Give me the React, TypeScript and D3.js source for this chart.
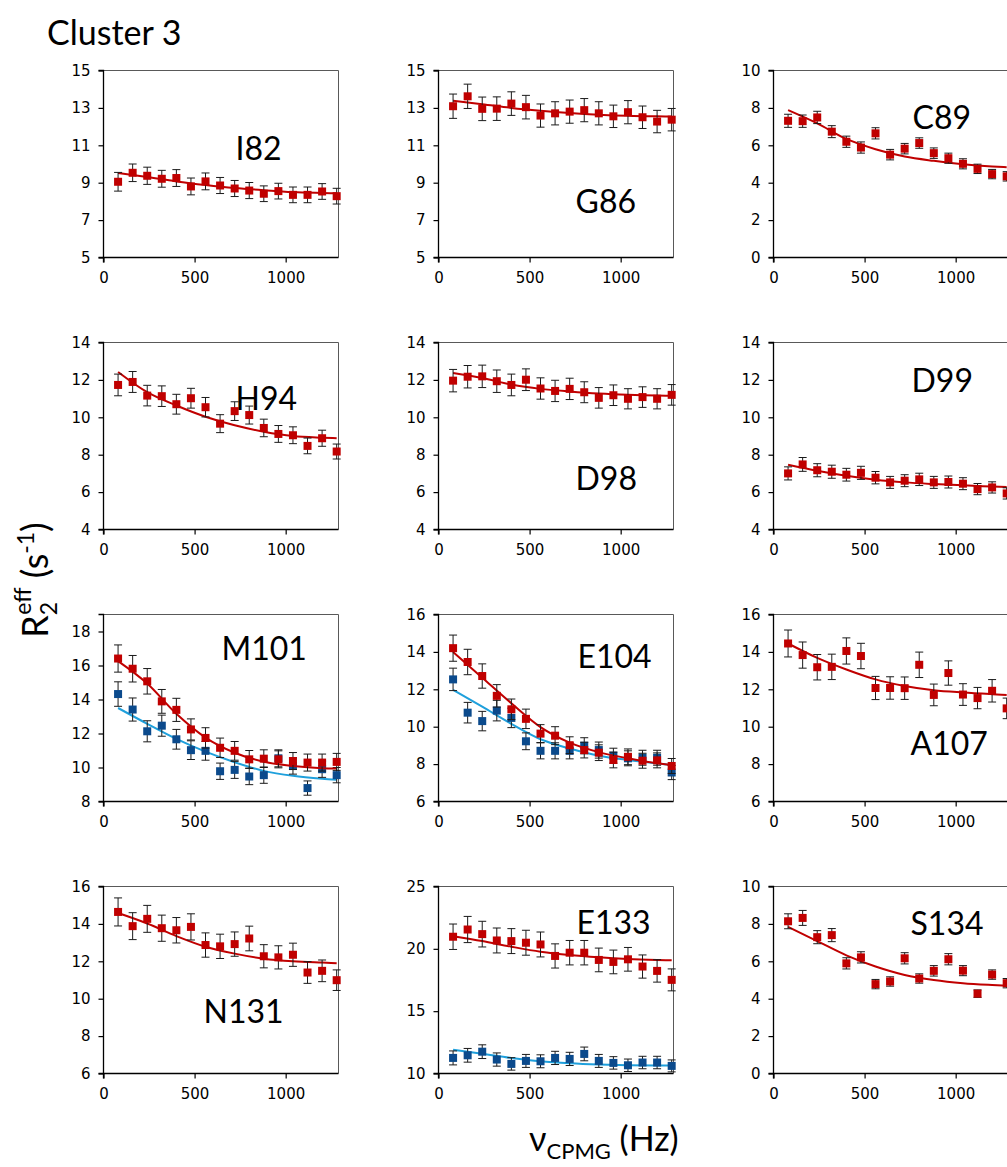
import React, { useEffect, useRef } from 'react';
import * as d3 from 'd3';

// CPMG frequencies (Hz) and the points where the fitted curves were read
const nuCPMG = [80, 160, 240, 320, 400, 480, 560, 640, 720, 800, 880, 960, 1040, 1120, 1200, 1280];
const fitNu = [80, 240, 400, 560, 720, 880, 1040, 1200, 1280];
const xTicks = [0, 500, 1000];

const residues = ['I82', 'G86', 'C89', 'H94', 'D98', 'D99', 'M101', 'E104', 'A107', 'N131', 'E133', 'S134'];
const yRanges = [[5, 15], [5, 15], [0, 10], [4, 14], [4, 14], [4, 14], [8, 19], [6, 16], [6, 16], [6, 16], [10, 25], [0, 10]];
const yTickSteps = [2, 2, 2, 2, 2, 2, 2, 2, 2, 2, 5, 2];

// R2eff values (s-1), red series
const i82 = [9.05, 9.53, 9.37, 9.21, 9.25, 8.8, 9.07, 8.85, 8.69, 8.58, 8.41, 8.55, 8.35, 8.35, 8.53, 8.28];
const g86 = [13.09, 13.62, 12.95, 12.96, 13.23, 13.04, 12.59, 12.71, 12.8, 12.88, 12.71, 12.55, 12.77, 12.5, 12.27, 12.37];
const c89 = [7.31, 7.29, 7.49, 6.73, 6.19, 5.88, 6.64, 5.5, 5.82, 6.12, 5.58, 5.31, 5.01, 4.74, 4.46, 4.34];
const h94 = [11.73, 11.89, 11.16, 11.13, 10.7, 11.02, 10.54, 9.66, 10.33, 10.12, 9.43, 9.11, 9.04, 8.47, 8.88, 8.17];
const d98 = [11.96, 12.17, 12.19, 11.93, 11.73, 12.01, 11.54, 11.41, 11.52, 11.34, 11.04, 11.18, 10.99, 11.08, 10.99, 11.2];
const d99 = [7.0, 7.48, 7.17, 7.09, 6.93, 7.03, 6.77, 6.52, 6.61, 6.68, 6.52, 6.54, 6.45, 6.16, 6.25, 5.93];
const m101 = [16.41, 15.81, 15.07, 13.89, 13.39, 12.24, 11.74, 11.16, 10.98, 10.48, 10.52, 10.48, 10.38, 10.29, 10.29, 10.33];
const e104 = [14.2, 13.46, 12.71, 11.65, 10.93, 10.42, 9.63, 9.52, 9.01, 8.75, 8.61, 8.22, 8.39, 8.18, 8.2, 7.9];
const a107 = [14.45, 13.83, 13.18, 13.2, 14.05, 13.78, 12.07, 12.07, 12.06, 13.31, 11.7, 12.87, 11.72, 11.53, 11.92, 10.98];
const n131 = [14.64, 13.88, 14.27, 13.77, 13.66, 13.84, 12.87, 12.8, 12.92, 13.22, 12.27, 12.21, 12.35, 11.4, 11.49, 10.99];
const e133 = [20.97, 21.55, 21.18, 20.67, 20.62, 20.49, 20.35, 19.43, 19.69, 19.69, 19.11, 18.95, 19.16, 18.58, 18.23, 17.51];
const s134 = [8.14, 8.32, 7.29, 7.4, 5.89, 6.21, 4.78, 4.92, 6.16, 5.08, 5.49, 6.11, 5.5, 4.27, 5.29, 4.83];

// blue series (only three residues)
const m101b = [14.32, 13.41, 12.13, 12.46, 11.66, 11.02, 10.98, 9.78, 9.86, 9.47, 9.55, 10.54, 10.09, 8.79, 9.9, 9.55];
const e104b = [12.53, 10.75, 10.3, 10.86, 10.47, 9.22, 8.71, 8.71, 8.71, 8.98, 8.75, 8.45, 8.31, 8.34, 8.34, 7.55];
const e133b = [11.25, 11.46, 11.75, 11.12, 10.77, 11.01, 10.98, 11.25, 11.17, 11.57, 11.01, 10.85, 10.66, 10.88, 10.88, 10.61];

// error bar half-widths
const i82Err = [0.5, 0.47, 0.46, 0.45, 0.45, 0.45, 0.45, 0.43, 0.43, 0.43, 0.42, 0.42, 0.42, 0.42, 0.42, 0.42];
const g86Err = [0.65, 0.65, 0.63, 0.63, 0.63, 0.63, 0.62, 0.62, 0.62, 0.62, 0.62, 0.6, 0.62, 0.6, 0.6, 0.6];
const c89Err = [0.35, 0.33, 0.33, 0.32, 0.3, 0.3, 0.3, 0.28, 0.28, 0.28, 0.28, 0.27, 0.27, 0.25, 0.25, 0.25];
const h94Err = [0.58, 0.56, 0.55, 0.55, 0.53, 0.53, 0.52, 0.48, 0.5, 0.48, 0.47, 0.45, 0.45, 0.42, 0.43, 0.4];
const d98Err = [0.6, 0.6, 0.6, 0.6, 0.58, 0.58, 0.57, 0.57, 0.57, 0.56, 0.55, 0.55, 0.54, 0.55, 0.54, 0.55];
const d99Err = [0.35, 0.37, 0.35, 0.35, 0.34, 0.35, 0.33, 0.32, 0.32, 0.33, 0.32, 0.32, 0.32, 0.3, 0.3, 0.3];
const m101Err = [0.8, 0.78, 0.75, 0.7, 0.68, 0.62, 0.6, 0.57, 0.55, 0.52, 0.52, 0.5, 0.5, 0.5, 0.5, 0.5];
const e104Err = [0.7, 0.68, 0.65, 0.6, 0.55, 0.52, 0.48, 0.48, 0.45, 0.42, 0.42, 0.42, 0.42, 0.4, 0.4, 0.4];
const a107Err = [0.72, 0.7, 0.68, 0.68, 0.7, 0.68, 0.62, 0.6, 0.6, 0.68, 0.58, 0.65, 0.58, 0.57, 0.6, 0.55];
const n131Err = [0.75, 0.72, 0.72, 0.7, 0.68, 0.7, 0.65, 0.65, 0.65, 0.66, 0.62, 0.62, 0.62, 0.58, 0.58, 0.55];
const e133Err = [1.02, 1.05, 1.03, 1.0, 1.0, 1.0, 1.0, 0.97, 0.98, 0.98, 0.95, 0.95, 0.95, 0.93, 0.9, 0.88];
const s134Err = [0.4, 0.4, 0.35, 0.35, 0.3, 0.3, 0.25, 0.25, 0.3, 0.25, 0.28, 0.3, 0.27, 0.2, 0.25, 0.25];
const m101bErr = [0.72, 0.68, 0.62, 0.62, 0.58, 0.55, 0.55, 0.48, 0.5, 0.48, 0.48, 0.5, 0.48, 0.42, 0.48, 0.45];
const e104bErr = [0.6, 0.55, 0.52, 0.55, 0.52, 0.45, 0.43, 0.43, 0.43, 0.43, 0.43, 0.4, 0.4, 0.4, 0.4, 0.38];
const e133bErr = [0.56, 0.55, 0.55, 0.53, 0.5, 0.52, 0.52, 0.53, 0.53, 0.55, 0.52, 0.5, 0.5, 0.5, 0.5, 0.48];

// fitted curves, read at fitNu
const i82Fit = [9.52, 9.3, 9.07, 8.88, 8.72, 8.6, 8.5, 8.45, 8.43];
const g86Fit = [13.38, 13.2, 13.0, 12.85, 12.73, 12.64, 12.58, 12.55, 12.54];
const c89Fit = [7.88, 7.17, 6.34, 5.79, 5.4, 5.17, 4.99, 4.87, 4.83];
const h94Fit = [12.42, 11.34, 10.63, 10.03, 9.57, 9.23, 9.0, 8.91, 8.88];
const d98Fit = [12.37, 12.1, 11.75, 11.52, 11.38, 11.27, 11.2, 11.16, 11.15];
const d99Fit = [7.46, 7.14, 6.87, 6.66, 6.52, 6.43, 6.36, 6.3, 6.27];
const m101Fit = [16.26, 14.94, 13.16, 11.76, 10.87, 10.34, 10.09, 9.96, 9.94];
const e104Fit = [13.99, 12.62, 11.25, 9.98, 9.15, 8.64, 8.31, 8.04, 7.95];
const a107Fit = [14.45, 13.68, 13.06, 12.53, 12.18, 11.95, 11.83, 11.74, 11.7];
const n131Fit = [14.58, 14.02, 13.35, 12.78, 12.41, 12.14, 12.0, 11.93, 11.9];
const e133Fit = [21.02, 20.62, 20.17, 19.77, 19.5, 19.32, 19.19, 19.11, 19.08];
const s134Fit = [7.84, 7.08, 6.32, 5.72, 5.27, 5.0, 4.83, 4.73, 4.69];
const m101bFit = [13.5, 12.57, 11.68, 10.93, 10.31, 9.8, 9.51, 9.34, 9.28];
const e104bFit = [11.97, 11.07, 10.15, 9.33, 8.83, 8.45, 8.22, 8.04, 7.95];
const e133bFit = [11.91, 11.59, 11.25, 10.98, 10.82, 10.72, 10.66, 10.64, 10.64];

const redSeries = [i82, g86, c89, h94, d98, d99, m101, e104, a107, n131, e133, s134];
const redErrs = [i82Err, g86Err, c89Err, h94Err, d98Err, d99Err, m101Err, e104Err, a107Err, n131Err, e133Err, s134Err];
const redFits = [i82Fit, g86Fit, c89Fit, h94Fit, d98Fit, d99Fit, m101Fit, e104Fit, a107Fit, n131Fit, e133Fit, s134Fit];
const blueSeries = { 6: [m101b, m101bErr, m101bFit], 7: [e104b, e104bErr, e104bFit], 10: [e133b, e133bErr, e133bFit] };

// residue label offsets inside each panel (px from plot top-left, baseline)
const labelOffsets = [[131, 89], [136, 142], [138, 58], [131, 67], [136, 147], [137, 49], [117, 45], [138, 53], [136, 140], [99, 136], [137, 47], [136, 48]];

const RED = '#C00000';
const BLUE = '#0B4A8C';
const BLUE_LINE = '#1FA0DC';

const Chart = () => {
  const ref = useRef<SVGSVGElement | null>(null);

  useEffect(() => {
    const svg = d3.select(ref.current);
    svg.selectAll('g.panel').remove();

    const colLeft = [103.5, 438.5, 773.5];
    const rowTop = [70.5, 342.5, 614.5, 886.5];
    const pw = 235;
    const ph = 187;

    const x = d3.scaleLinear().domain([0, 1290]).range([0, pw]);

    residues.forEach((name, i) => {
      const g = svg
        .append('g')
        .attr('class', 'panel')
        .attr('transform', `translate(${colLeft[i % 3]},${rowTop[Math.floor(i / 3)]})`);
      const [y0, y1] = yRanges[i];
      const y = d3.scaleLinear().domain([y0, y1]).range([ph, 0]);

      // frame top/right
      g.append('path').attr('d', `M0,0H${pw}V${ph}`).attr('fill', 'none').attr('stroke', '#595959').attr('stroke-width', 1);

      const yAxis = g.append('g').call(
        d3.axisLeft(y).tickValues(d3.range(y0, y1 + 0.001, yTickSteps[i])).tickSize(5).tickPadding(8).tickFormat(d3.format('d'))
      );
      const xAxis = g.append('g').attr('transform', `translate(0,${ph})`).call(
        d3.axisBottom(x).tickValues(xTicks).tickSize(5).tickPadding(10).tickFormat(d3.format('d'))
      );
      [yAxis, xAxis].forEach((ax) => {
        ax.attr('font-size', null).attr('font-family', null);
        ax.select('.domain').attr('stroke', '#000').attr('stroke-width', 1.3);
        ax.selectAll('line').attr('stroke', '#000').attr('stroke-width', 1.2);
        ax.selectAll('text')
          .style('font-family', '"DejaVu Sans", sans-serif')
          .style('font-size', '15px')
          .attr('fill', '#000');
      });
      yAxis.select('.domain').attr('d', `M-5,${ph}H0V0H-5`);
      xAxis.select('.domain').attr('d', `M0,5V0H${pw}`);

      const drawSeries = (vals: number[], errs: number[], fit: number[], dot: string, lineColor: string) => {
        const line = d3
          .line<number>()
          .x((_, k) => x(fitNu[k]))
          .y((d) => y(d))
          .curve(d3.curveMonotoneX);
        g.append('path').attr('d', line(fit)).attr('fill', 'none').attr('stroke', lineColor).attr('stroke-width', 2);

        vals.forEach((v, k) => {
          const cx = x(nuCPMG[k]);
          const top = y(v + errs[k]);
          const bot = y(v - errs[k]);
          g.append('path')
            .attr('d', `M${cx - 4},${top}H${cx + 4}M${cx},${top}V${bot}M${cx - 4},${bot}H${cx + 4}`)
            .attr('stroke', '#1a1a1a')
            .attr('stroke-width', 1)
            .attr('fill', 'none');
        });
        vals.forEach((v, k) => {
          g.append('rect')
            .attr('x', x(nuCPMG[k]) - 4)
            .attr('y', y(v) - 4)
            .attr('width', 8)
            .attr('height', 8)
            .attr('fill', dot);
        });
      };

      const blue = blueSeries[i];
      if (blue) drawSeries(blue[0], blue[1], blue[2], BLUE, BLUE_LINE);
      drawSeries(redSeries[i], redErrs[i], redFits[i], RED, RED);

      g.append('text')
        .attr('x', labelOffsets[i][0] + 1)
        .attr('y', labelOffsets[i][1])
        .attr('font-family', 'Lato, "Open Sans", sans-serif')
        .attr('font-size', 32)
        .attr('fill', '#000')
        .text(name);
    });
  }, []);

  return (
    <svg ref={ref} width={1007} height={1167} style={{ position: 'absolute', left: 0, top: 0, background: '#fff' }}>
      <text x={47} y={45} fontFamily="Lato, sans-serif" fontSize={34} fill="#000">
        Cluster 3
      </text>
      <text transform="translate(48,580) rotate(-90)" textAnchor="middle" fontFamily="Lato, sans-serif" fontSize={36} fill="#000">
        R
        <tspan fontSize={23} dy={9}>2</tspan>
        <tspan fontSize={23} dx={-13} dy={-26}>eff</tspan>
        <tspan fontSize={36} dy={17}> (s</tspan>
        <tspan fontSize={23} dy={-14}>-1</tspan>
        <tspan fontSize={36} dy={14}>)</tspan>
      </text>
      <text x={529} y={1151} fontFamily="Lato, sans-serif" fontSize={34} fill="#000">
        ν<tspan fontSize={22} dy={8}>CPMG</tspan>
        <tspan fontSize={34} dy={-8}> (Hz)</tspan>
      </text>
    </svg>
  );
};

const App = () => (
  <div style={{ position: 'absolute', left: 0, top: 0, width: 1007, height: 1167, overflow: 'hidden' }}>
    <Chart />
  </div>
);

export default App;
